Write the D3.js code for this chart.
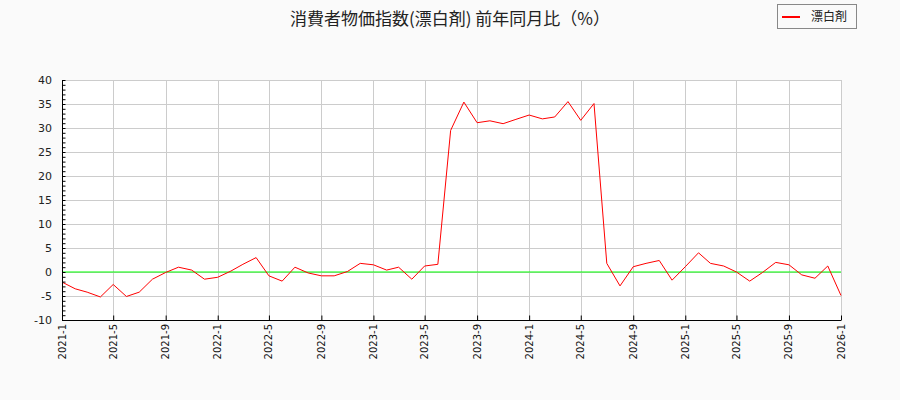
<!DOCTYPE html>
<html>
<head>
<meta charset="utf-8">
<script src="https://cdn.jsdelivr.net/npm/d3@7"></script>
<style>
  body { margin: 0; background: #fafafa; }
  svg { font-family: "DejaVu Sans", sans-serif; }
</style>
</head>
<body>
<div id="chart"></div>
<script>
const width = 900;
const height = 400;
const margin = { top: 80, right: 59, bottom: 80, left: 62 };

const title = "消費者物価指数(漂白剤) 前年同月比（%）";
const seriesName = "漂白剤";

// 2021-1 .. 2026-1, monthly
const months = d3.range(61).map(i => new Date(2021, i, 1));
const values = [
  -2.1, -3.5, -4.2, -5.2, -2.6, -5.1, -4.2, -1.5, -0.1, 1.0, 0.4, -1.5,
  -1.1, 0.2, 1.6, 3.0, -0.8, -1.9, 1.0, -0.2, -0.8, -0.8, 0.1, 1.8,
  1.5, 0.4, 1.0, -1.5, 1.25, 1.6, 29.5, 35.4, 31.1, 31.5, 30.9, 31.8,
  32.7, 31.9, 32.3, 35.5, 31.6, 35.1, 1.8, -2.9, 1.1, 1.8, 2.4, -1.7,
  1.1, 4.0, 1.8, 1.25, 0.0, -1.9, -0.1, 2.0, 1.5, -0.6, -1.3, 1.25,
  -4.9
];
const yTicks = [-10, -5, 0, 5, 10, 15, 20, 25, 30, 35, 40];
const xTicks = months.filter((d, i) => i % 4 === 0);

const svg = d3.select("#chart").append("svg")
  .attr("width", width)
  .attr("height", height);

const x = d3.scaleTime()
  .domain([months[0], months[months.length - 1]])
  .range([margin.left, width - margin.right]);

const y = d3.scaleLinear()
  .domain([-10, 40])
  .range([height - margin.bottom, margin.top]);

svg.append("rect")
  .attr("x", margin.left)
  .attr("y", margin.top)
  .attr("width", width - margin.left - margin.right)
  .attr("height", height - margin.top - margin.bottom)
  .attr("fill", "#fff");

// grid
svg.append("g")
  .attr("stroke", "#ccc")
  .selectAll("line.h")
  .data(yTicks)
  .enter().append("line")
    .attr("x1", margin.left)
    .attr("x2", width - margin.right)
    .attr("y1", d => y(d) + 0.5)
    .attr("y2", d => y(d) + 0.5);

svg.append("g")
  .attr("stroke", "#ccc")
  .selectAll("line.v")
  .data(xTicks)
  .enter().append("line")
    .attr("x1", d => Math.round(x(d)) + 0.5)
    .attr("x2", d => Math.round(x(d)) + 0.5)
    .attr("y1", margin.top)
    .attr("y2", height - margin.bottom);

// zero line
svg.append("line")
  .attr("x1", margin.left)
  .attr("x2", width - margin.right)
  .attr("y1", y(0))
  .attr("y2", y(0))
  .attr("stroke", "#00ff00")
  .attr("stroke-width", 1.2);

// series
const line = d3.line()
  .x(d => x(d[0]))
  .y(d => y(d[1]));

svg.append("path")
  .datum(d3.zip(months, values))
  .attr("fill", "none")
  .attr("stroke", "#ff0000")
  .attr("stroke-width", 1)
  .attr("d", line);

// y axis
const yAxis = svg.append("g")
  .attr("transform", `translate(${margin.left + 0.5},0)`)
  .call(d3.axisRight(y).tickValues(d3.range(-10, 41, 1)).tickSize(3).tickFormat(""));
yAxis.select(".domain").remove();
yAxis.selectAll("line").attr("stroke", "#000");

svg.append("g")
  .attr("transform", `translate(${margin.left},0)`)
  .selectAll("text")
  .data(yTicks)
  .enter().append("text")
    .attr("x", -10)
    .attr("y", d => y(d))
    .attr("dy", "0.35em")
    .attr("text-anchor", "end")
    .attr("font-size", 11)
    .attr("fill", "#222")
    .text(d => d);

svg.append("line")
  .attr("x1", margin.left + 0.5)
  .attr("x2", margin.left + 0.5)
  .attr("y1", margin.top)
  .attr("y2", height - margin.bottom)
  .attr("stroke", "#000");

// x axis
const xAxis = svg.append("g")
  .attr("transform", `translate(0,${height - margin.bottom + 0.5})`)
  .call(d3.axisTop(x).tickValues(xTicks).tickSize(5).tickFormat(""));
xAxis.select(".domain").remove();
xAxis.selectAll("line").attr("stroke", "#000");

svg.append("line")
  .attr("x1", margin.left)
  .attr("x2", width - margin.right)
  .attr("y1", height - margin.bottom + 0.5)
  .attr("y2", height - margin.bottom + 0.5)
  .attr("stroke", "#000");

svg.append("g")
  .selectAll("text")
  .data(xTicks)
  .enter().append("text")
    .attr("transform", d => `translate(${x(d)},${height - margin.bottom + 4}) rotate(-90)`)
    .attr("text-anchor", "end")
    .attr("dy", "0.35em")
    .attr("font-size", 10)
    .attr("fill", "#111")
    .text(d => `${d.getFullYear()}-${d.getMonth() + 1}`);

// title
svg.append("text")
  .attr("x", 450)
  .attr("y", 25)
  .attr("text-anchor", "middle")
  .attr("font-size", 17)
  .attr("font-family", "Noto Sans CJK JP")
  .attr("fill", "#222")
  .text(title);

// legend
const legend = svg.append("g").attr("transform", "translate(777,4)");
legend.append("rect")
  .attr("x", 0.5).attr("y", 0.5)
  .attr("width", 79).attr("height", 24)
  .attr("fill", "#fafafa")
  .attr("stroke", "#888");
legend.append("line")
  .attr("x1", 5).attr("x2", 23)
  .attr("y1", 13).attr("y2", 13)
  .attr("stroke", "#ff0000")
  .attr("stroke-width", 2);
legend.append("text")
  .attr("x", 34).attr("y", 13)
  .attr("dy", "0.35em")
  .attr("font-size", 12)
  .attr("font-family", "Noto Sans CJK JP")
  .attr("fill", "#222")
  .text(seriesName);
</script>
</body>
</html>
